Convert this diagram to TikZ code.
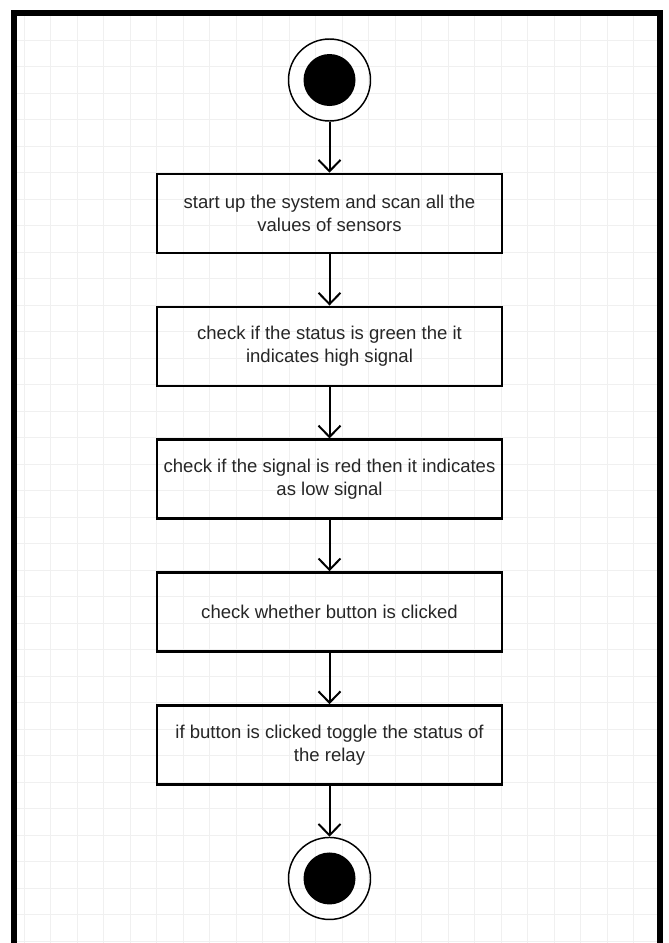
\documentclass[tikz,border=0pt]{standalone}
\usepackage{fontspec}
\setmainfont{Liberation Sans}
\usetikzlibrary{
    positioning,
    arrows.meta
}
\tikzset {
    grid line/.style = {draw = black!6, line width = 0.7pt},
    frame line/.style = {line width = 4.5pt},
    action/.style = {
        rectangle, draw, line width = 2pt,
        minimum width = 258.75pt, minimum height = 59.25pt,
        align = center, text = black!85,
        font = \fontsize{13.9}{17.5}\selectfont
    },
    end vertex/.style = {
        circle, draw, line width = 1.1pt,
        minimum size = 61.5pt, inner sep = 0pt,
        path picture = {
            \fill (path picture bounding box.center) circle (19.5pt);
        }
    },
    flow/.style = {
        line width = 1.5pt,
        arrows = {-Straight Barb[length = 8.5pt, width = 16.5pt, line width = 1.5pt]}
    }
}
\begin{document}
\begin{tikzpicture}[x = 0.75pt, y = -0.75pt, node distance = 38.4pt]
    \useasboundingbox [fill = white] (0, 0) rectangle (668, 943);
    % background grid
    \foreach \gx in {0, ..., 24}
        \draw [grid line] (24 + 26.5 * \gx, 16) -- (24 + 26.5 * \gx, 943);
    \foreach \gy in {0, ..., 34}
        \draw [grid line] (17, 40 + 26.5 * \gy) -- (657, 40 + 26.5 * \gy);
    \draw [frame line] (14, 943) -- (14, 12.5) -- (660, 12.5) -- (660, 943);
    % flow
    \node (start) [end vertex] at (329.5, 80) {};
    \node (scan) [action, below = 38.2pt of start]
        {start up the system and scan all the\\ values of sensors};
    \node (green) [action, below = of scan]
        {check if the status is green the it\\ indicates high signal};
    \node (red) [action, below = of green]
        {check if the signal is red then it indicates\\ as low signal};
    \node (button) [action, below = of red]
        {check whether button is clicked};
    \node (relay) [action, below = of button]
        {if button is clicked toggle the status of\\ the relay};
    \node (stop) [end vertex, below = 38.2pt of relay] {};
    \draw [flow] (start) -- (scan);
    \draw [flow] (scan) -- (green);
    \draw [flow] (green) -- (red);
    \draw [flow] (red) -- (button);
    \draw [flow] (button) -- (relay);
    \draw [flow] (relay) -- (stop);
\end{tikzpicture}
\end{document}
